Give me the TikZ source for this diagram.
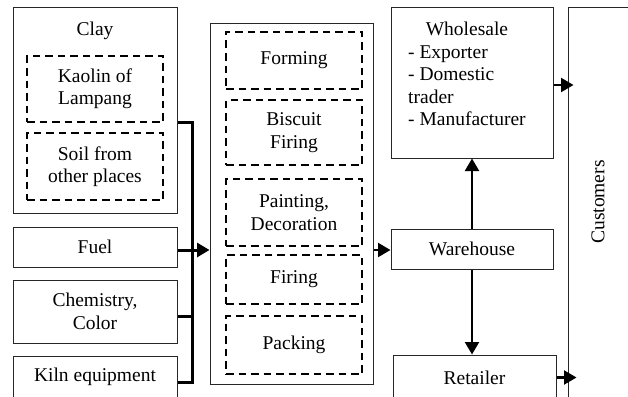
\documentclass[tikz,border=0pt]{standalone}
\usepackage{fontspec}
\setmainfont{Liberation Serif}
\usetikzlibrary{arrows.meta}
\begin{document}
\begin{tikzpicture}[x=1pt,y=-1pt,
  font=\fontsize{19.5}{22.4}\selectfont,
  box/.style={draw=black!85, line width=1pt, inner sep=0pt, align=center},
  dbox/.style={draw=black, line width=2.2pt, dash pattern=on 7.5pt off 5pt, inner sep=0pt, align=center, minimum width=136pt},
  bus/.style={line width=3pt},
  conn/.style={line width=2.2pt},
  tip/.style={-{Triangle[length=12.5pt,width=14pt]}}]
\useasboundingbox (0,0) rectangle (628,396);
% left column
\node[box, minimum width=164pt, minimum height=205pt] (clay) at (95,110.5) {};
\node (claylbl) at (95,31) {Clay};
\node[dbox, minimum height=66pt] (kaolin) at (95,89) {Kaolin of\\Lampang};
\node[dbox, minimum height=67pt] (soil) at (95,166.5) {Soil from\\other places};
\node[box, minimum width=164pt, minimum height=40pt] (fuel) at (95,247) {Fuel};
\node[box, minimum width=164pt, minimum height=63pt] (chem) at (95,311.5) {Chemistry,\\Color};
\node[box, minimum width=164pt, minimum height=42pt] (kiln) at (95,377) {Kiln equipment};
% middle column
\node[box, minimum width=163pt, minimum height=360pt] (mid) at (291.5,204) {};
\node[dbox, minimum height=57pt] (forming) at (294,60.5) {Forming};
\node[dbox, minimum height=65pt] (biscuit) at (294,132.5) {Biscuit\\Firing};
\node[dbox, minimum height=67pt] (painting) at (294,212.5) {Painting,\\Decoration};
\node[dbox, minimum height=49pt] (firing) at (294,279.5) {Firing};
\node[dbox, minimum height=58pt] (packing) at (294,345) {Packing};
% right column
\node[box, minimum width=162pt, minimum height=150pt] (wholesale) at (472,83) {};
\node[anchor=base west, inner sep=0pt] (wholelbl) at (408,36)
  {\setlength\tabcolsep{0pt}\begin{tabular}[t]{@{}l@{}}\multicolumn{1}{@{}c@{}}{Wholesale}\\- Exporter\\- Domestic\\trader\\- Manufacturer\end{tabular}};
\node[box, minimum width=162pt, minimum height=40pt] (wh) at (472,249) {Warehouse};
\node[box, minimum width=163pt, minimum height=45pt] (retailer) at (474.5,377.5) {Retailer};
\node[box, minimum width=72pt, minimum height=402pt] (cust) at (604,209) {};
\node[rotate=90] (custlbl) at (598,202) {Customers};
% connectors
\coordinate (busTop) at (192,122);
\coordinate (busBot) at (192,382);
\draw[bus] (clay.east |- busTop) -- (busTop) -- (busBot) -- (kiln.east |- busBot);
\draw[bus] (chem.east |- 0,316) -- (busTop |- 0,316);
\draw[bus,tip] (fuel.east |- 0,250) -- (mid.west |- 0,250);
\draw[conn,tip] (mid.east |- 0,250) -- (wh.west |- 0,250);
\draw[conn,tip] (wh.north) -- (wholesale.south);
\draw[conn,tip] (wh.south) -- (wh.south |- retailer.north);
\draw[conn,tip,shorten >=-6pt] (wholesale.east |- 0,85) -- (cust.west |- 0,85);
\draw[conn,tip,shorten >=-9pt] (retailer.east) -- (retailer.east -| cust.west);
\end{tikzpicture}
\end{document}
